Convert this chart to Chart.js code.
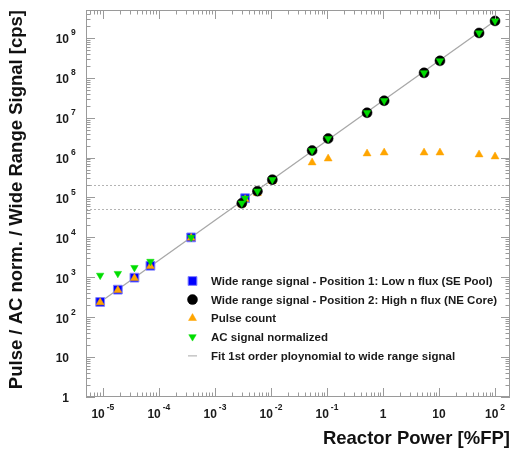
<!DOCTYPE html>
<html>
<head>
<meta charset="utf-8">
<script src="https://cdn.jsdelivr.net/npm/chart.js@4.4.1/dist/chart.umd.min.js"></script>
<style>
  html, body { margin: 0; padding: 0; background: #fff; overflow: hidden; }
  #wrap { width: 513px; height: 454px; }
  canvas { display: block; }
</style>
</head>
<body>
<div id="wrap"><canvas id="c" width="513" height="454"></canvas></div>
<script>
/* Wide range / pulse / AC signals vs reactor power, log-log */
const FONT = "'Liberation Sans', Arial, Helvetica, sans-serif";

// Position 1 (SE Pool) - blue squares
const pos1Power  = [8.95e-6, 1.85e-5, 3.66e-5, 7.06e-5, 3.77e-4, 3.46e-3];
const pos1Signal = [241, 490, 980, 1950, 1.0e4, 9.6e4];

// Position 2 (NE Core) - black circles
const pos2Power  = [3.02e-3, 5.74e-3, 1.06e-2, 0.0543, 0.105, 0.52, 1.05, 5.41, 10.4, 51.9, 100];
const pos2Signal = [7.2e4, 1.44e5, 2.8e5, 1.5e6, 3.0e6, 1.33e7, 2.66e7, 1.33e8, 2.66e8, 1.33e9, 2.66e9];

// pulse count and AC signal share the same power points
const allPower    = [8.95e-6, 1.85e-5, 3.66e-5, 7.06e-5, 3.77e-4, 3.02e-3, 3.46e-3, 5.74e-3, 1.06e-2,
                     0.0543, 0.105, 0.52, 1.05, 5.41, 10.4, 51.9, 100];
const pulseCount  = [235, 475, 950, 1900, 9.7e3, 6.6e4, 9.0e4, 1.28e5, 2.55e5,
                     7.5e5, 9.4e5, 1.26e6, 1.33e6, 1.33e6, 1.33e6, 1.19e6, 1.06e6];
const acSignal    = [1120, 1240, 1750, 2500, 1.0e4, 7.2e4, 9.6e4, 1.44e5, 2.8e5,
                     1.5e6, 3.0e6, 1.33e7, 2.66e7, 1.33e8, 2.66e8, 1.33e9, 2.66e9];

// fit line end points
const fitPower  = [9e-6, 105];
const fitSignal = [240, 2.8e9];

// dotted reference levels
const refLevels = [2e5, 5e4];

const xRange = [5e-6, 185];
const yRange = [1, 5e9];

const pts = (xs, ys) => xs.map((x, i) => ({x, y: ys[i]}));

function logTicks(min, max) {
  const out = [];
  for (let d = Math.floor(Math.log10(min)); d <= Math.ceil(Math.log10(max)); d++) {
    for (let k = 1; k <= 9; k++) {
      const v = k * Math.pow(10, d);
      if (v >= min * 0.999 && v <= max * 1.001) out.push({value: v, major: k === 1, exp: d});
    }
  }
  return out;
}

const SUP_FONT = "bold 8.5px " + FONT;
const LBL_FONT = "bold 12px " + FONT;

function powParts(exp) {
  if (exp === 0) return ['1', ''];
  if (exp === 1) return ['10', ''];
  return ['10', String(exp)];
}

const rootFrame = {
  id: 'rootFrame',
  afterDatasetsDraw(chart) {
    const {ctx, chartArea: a, scales: {x, y}} = chart;
    ctx.save();
    ctx.strokeStyle = '#9a9a9a';
    ctx.lineWidth = 1;
    ctx.beginPath();
    const xt = logTicks(x.min, x.max);
    const yt = logTicks(y.min, y.max);
    xt.forEach(t => {
      const px = Math.round(x.getPixelForValue(t.value)) + 0.5;
      const len = t.major ? 9 : 4.5;
      ctx.moveTo(px, a.bottom); ctx.lineTo(px, a.bottom - len);
      ctx.moveTo(px, a.top); ctx.lineTo(px, a.top + len);
    });
    yt.forEach(t => {
      const py = Math.round(y.getPixelForValue(t.value)) + 0.5;
      const len = t.major ? 9 : 4.5;
      ctx.moveTo(a.left, py); ctx.lineTo(a.left + len, py);
      ctx.moveTo(a.right, py); ctx.lineTo(a.right - len, py);
    });
    ctx.stroke();
    ctx.strokeRect(a.left + 0.5, a.top + 0.5, a.right - a.left - 1, a.bottom - a.top - 1);

    // tick labels with superscript exponents
    ctx.fillStyle = '#1a1a1a';
    ctx.textBaseline = 'middle';
    xt.filter(t => t.major).forEach(t => {
      const px = x.getPixelForValue(t.value);
      const [b, e] = powParts(t.exp);
      ctx.font = LBL_FONT;
      const wb = ctx.measureText(b).width;
      ctx.font = SUP_FONT;
      const we = e ? ctx.measureText(e).width + 2 : 0;
      const x0 = px - (wb + we) / 2;
      ctx.textAlign = 'left';
      ctx.font = LBL_FONT;
      ctx.fillText(b, x0, 415);
      if (e) { ctx.font = SUP_FONT; ctx.fillText(e, x0 + wb + 2, 408); }
    });
    yt.filter(t => t.major).forEach(t => {
      const py = y.getPixelForValue(t.value);
      const [b, e] = powParts(t.exp);
      ctx.textAlign = 'right';
      ctx.font = LBL_FONT;
      ctx.fillText(b, 69, py + 2);
      if (e) { ctx.textAlign = 'left'; ctx.font = SUP_FONT; ctx.fillText(e, 71, py - 5); }
    });

    // legend inside the frame
    const order = [3, 1, 2, 0, 4];
    ctx.font = "bold 11.5px " + FONT;
    ctx.textAlign = 'left';
    order.forEach((di, i) => {
      const ds = chart.data.datasets[di];
      const ly = 281 + i * 18.6;
      if (ds.showLine) {
        ctx.strokeStyle = ds.borderColor;
        ctx.lineWidth = 1;
        ctx.beginPath();
        ctx.moveTo(188, ly + 0.5); ctx.lineTo(197, ly + 0.5);
        ctx.stroke();
      } else {
        ctx.fillStyle = ds.backgroundColor;
        ctx.strokeStyle = ds.borderColor;
        ctx.lineWidth = ds.borderWidth;
        Chart.helpers.drawPoint(ctx, {
          pointStyle: ds.pointStyle, radius: ds.pointRadius,
          rotation: ds.rotation || 0, borderWidth: ds.borderWidth
        }, 192.5, ly);
      }
      ctx.fillStyle = '#1a1a1a';
      ctx.fillText(ds.label, 211, ly + 1);
    });
    ctx.restore();
  }
};

new Chart(document.getElementById('c').getContext('2d'), {
  type: 'scatter',
  data: {
    datasets: [
      { label: 'AC signal normalized', data: pts(allPower, acSignal), order: 0,
        pointStyle: 'triangle', rotation: 180, pointRadius: 4.3,
        backgroundColor: '#00dd00', borderColor: '#00dd00', borderWidth: 0.5 },
      { label: 'Wide range signal - Position 2: High n flux (NE Core)', data: pts(pos2Power, pos2Signal), order: 1,
        pointStyle: 'circle', pointRadius: 5,
        backgroundColor: '#000000', borderColor: '#000000', borderWidth: 0.5 },
      { label: 'Pulse count', data: pts(allPower, pulseCount), order: 2,
        pointStyle: 'triangle', pointRadius: 4.6,
        backgroundColor: '#ffa500', borderColor: '#ffa500', borderWidth: 0.5 },
      { label: 'Wide range signal - Position 1: Low n flux (SE Pool)', data: pts(pos1Power, pos1Signal), order: 3,
        pointStyle: 'rect', pointRadius: 6.2,
        backgroundColor: '#0000ff', borderColor: '#8080ff', borderWidth: 1 },
      { label: 'Fit 1st order ploynomial to wide range signal', data: pts(fitPower, fitSignal), order: 4,
        showLine: true, pointRadius: 0, borderColor: '#a8a8a8', borderWidth: 1.3 },
      { label: 'ref high', data: pts(xRange, [refLevels[0], refLevels[0]]), order: 5,
        showLine: true, pointRadius: 0, borderColor: '#b4b4b4', borderWidth: 1, borderDash: [2, 2] },
      { label: 'ref low', data: pts(xRange, [refLevels[1], refLevels[1]]), order: 5,
        showLine: true, pointRadius: 0, borderColor: '#b4b4b4', borderWidth: 1, borderDash: [2, 2] }
    ]
  },
  options: {
    responsive: false,
    devicePixelRatio: 1,
    animation: false,
    events: [],
    layout: { autoPadding: false, padding: { top: 10, right: 3, left: 0, bottom: 0 } },
    plugins: { legend: { display: false }, tooltip: { enabled: false } },
    scales: {
      x: {
        type: 'logarithmic', position: 'bottom', min: xRange[0], max: xRange[1],
        grid: { display: false }, border: { display: false }, ticks: { display: false },
        title: { display: true, text: 'Reactor Power [%FP]', align: 'end', color: '#111',
                 font: { family: FONT, size: 18.5, weight: 'bold' }, padding: { top: 0, bottom: 4 } },
        afterFit(s) { s.height = 57; }
      },
      y: {
        type: 'logarithmic', position: 'left', min: yRange[0], max: yRange[1],
        grid: { display: false }, border: { display: false }, ticks: { display: false },
        title: { display: true, text: 'Pulse / AC norm. / Wide Range Signal [cps]', align: 'end', color: '#111',
                 font: { family: FONT, size: 18.5, weight: 'bold' }, padding: { top: 6, bottom: 0 } },
        afterFit(s) { s.width = 86; }
      }
    }
  },
  plugins: [rootFrame]
});
</script>
</body>
</html>
